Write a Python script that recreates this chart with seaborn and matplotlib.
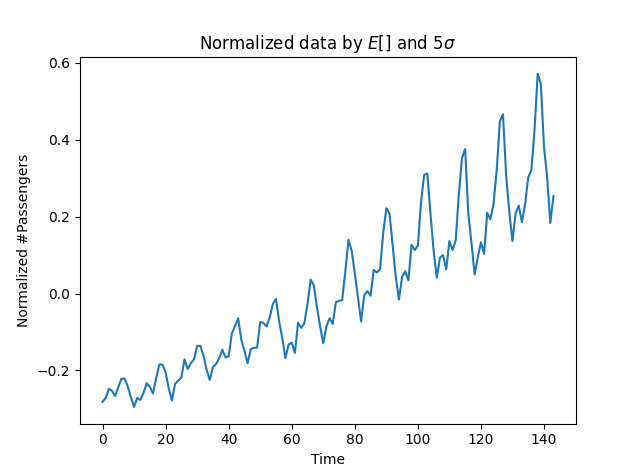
import numpy as np
import pandas as pd
import matplotlib
matplotlib.use("Agg")
import matplotlib.pyplot as plt
import seaborn as sns

# monthly airline passengers 1949-1960 (thousands)
passengers = [
    112, 118, 132, 129, 121, 135, 148, 148, 136, 119, 104, 118,
    115, 126, 141, 135, 125, 149, 170, 170, 158, 133, 114, 140,
    145, 150, 178, 163, 172, 178, 199, 199, 184, 162, 146, 166,
    171, 180, 193, 181, 183, 218, 230, 242, 209, 191, 172, 194,
    196, 196, 236, 235, 229, 243, 264, 272, 237, 211, 180, 201,
    204, 188, 235, 227, 234, 264, 302, 293, 259, 229, 203, 229,
    242, 233, 267, 269, 270, 315, 364, 347, 312, 274, 237, 278,
    284, 277, 317, 313, 318, 374, 413, 405, 355, 306, 271, 306,
    315, 301, 356, 348, 355, 422, 465, 467, 404, 347, 305, 336,
    340, 318, 362, 348, 363, 435, 491, 505, 404, 359, 310, 337,
    360, 342, 406, 396, 420, 472, 548, 559, 463, 407, 362, 405,
    417, 391, 419, 461, 472, 535, 622, 606, 508, 461, 390, 432,
]

x = np.array(passengers, dtype=float)
df = pd.DataFrame({
    "Time": np.arange(len(x)),
    "norm": (x - x.mean()) / (5 * x.std()),
})

fig, ax = plt.subplots(figsize=(6.4, 4.76), dpi=100)
sns.lineplot(x="Time", y="norm", data=df, ax=ax, color="#1f77b4")
ax.set_title(r"Normalized data by $E[]$ and $5\sigma$")
ax.set_xlabel("Time")
ax.set_ylabel("Normalized #Passengers")
fig.savefig("out.png", dpi=100)
